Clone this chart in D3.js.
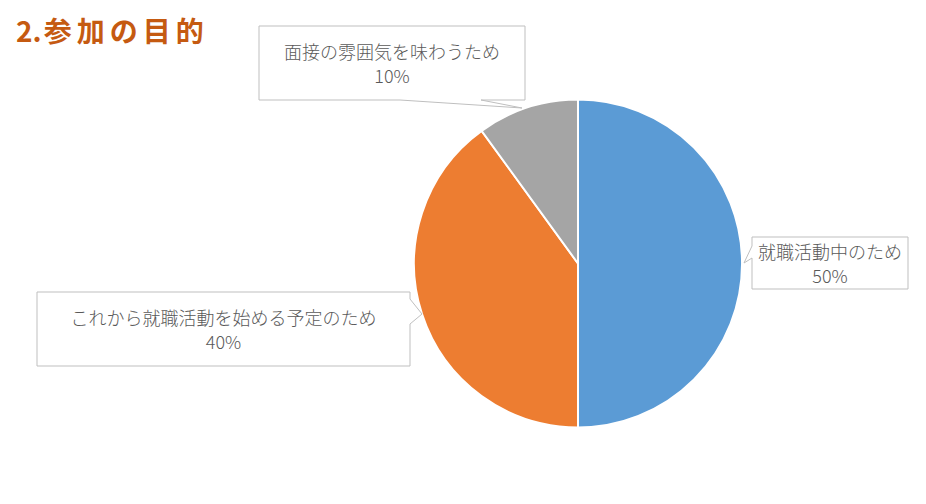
<!DOCTYPE html>
<html>
<head>
<meta charset="utf-8">
<script src="https://cdn.jsdelivr.net/npm/d3@7"></script>
<style>
  body { margin: 0; background: #fff; }
  svg { display: block; }
</style>
</head>
<body>
<script>
// chart data
var categories = ["就職活動中のため", "これから就職活動を始める予定のため", "面接の雰囲気を味わうため"];
var values = [50, 40, 10];
var colors = ["#5b9bd5", "#ed7d31", "#a5a5a5"];

var width = 926,
    height = 504;

var svg = d3.select("body")
    .append("svg")
    .attr("width", width)
    .attr("height", height);

// title ("2." tight, kanji spaced out like the original)
var title = svg.append("text")
    .attr("x", 16)
    .attr("y", 42)
    .attr("fill", "#c55a11")
    .style("font-family", "'Noto Sans CJK JP', sans-serif")
    .style("font-weight", "bold")
    .style("font-size", "28px");
title.append("tspan").text("2.");
title.append("tspan").attr("dx", 2).style("letter-spacing", "5px").text("参加の目的");

// pie
var cx = 578, cy = 263.5, radius = 164;

var pie = d3.pie().sort(null).value(function(d){ return d; });
var arcs = pie(values);
var arc = d3.arc().innerRadius(0).outerRadius(radius);

var g = svg.append("g").attr("transform", "translate(" + cx + "," + cy + ")");

g.selectAll("path")
    .data(arcs)
    .enter()
    .append("path")
    .attr("d", arc)
    .attr("fill", function(d, i){ return colors[i]; })
    .attr("stroke", "#fff")
    .attr("stroke-width", 2);

// callout boxes (layout only: box rect + pointer triangle)
var callouts = [
    { x: 752, y: 237, w: 156, h: 52, side: "left",   p: [[752, 246], [744, 263], [752, 258]] },
    { x: 37,  y: 292, w: 373, h: 74, side: "right",  p: [[410, 299], [422, 314], [410, 324]] },
    { x: 259, y: 26,  w: 266, h: 74, side: "bottom", p: [[400, 100], [522, 108], [481, 100]] }
];

var total = d3.sum(values);
var pct = d3.format(".0%");

callouts.forEach(function(c, i){
    var x0 = c.x, y0 = c.y, x1 = c.x + c.w, y1 = c.y + c.h;
    var pts;
    if (c.side === "left") {
        pts = [[x0, y0], [x1, y0], [x1, y1], [x0, y1]].concat([c.p[2], c.p[1], c.p[0]]);
    } else if (c.side === "right") {
        pts = [[x0, y0], [x1, y0]].concat(c.p).concat([[x1, y1], [x0, y1]]);
    } else {
        pts = [[x0, y0], [x1, y0], [x1, y1], c.p[2], c.p[1], c.p[0], [x0, y1]];
    }
    svg.append("path")
        .attr("d", d3.line()(pts) + "Z")
        .attr("fill", "#fff")
        .attr("stroke", "#bfbfbf")
        .attr("stroke-width", 1);

    var tx = c.x + c.w / 2,
        ty = c.y + c.h / 2;
    var t = svg.append("text")
        .attr("text-anchor", "middle")
        .attr("fill", "#595959")
        .style("font-family", "'Noto Sans CJK JP', sans-serif")
        .style("font-size", "18px")
        .style("font-weight", 300);
    t.append("tspan")
        .attr("x", tx)
        .attr("y", ty - 12)
        .attr("dominant-baseline", "central")
        .text(categories[i]);
    t.append("tspan")
        .attr("x", tx)
        .attr("y", ty + 12)
        .attr("dominant-baseline", "central")
        .text(pct(values[i] / total));
});
</script>
</body>
</html>
